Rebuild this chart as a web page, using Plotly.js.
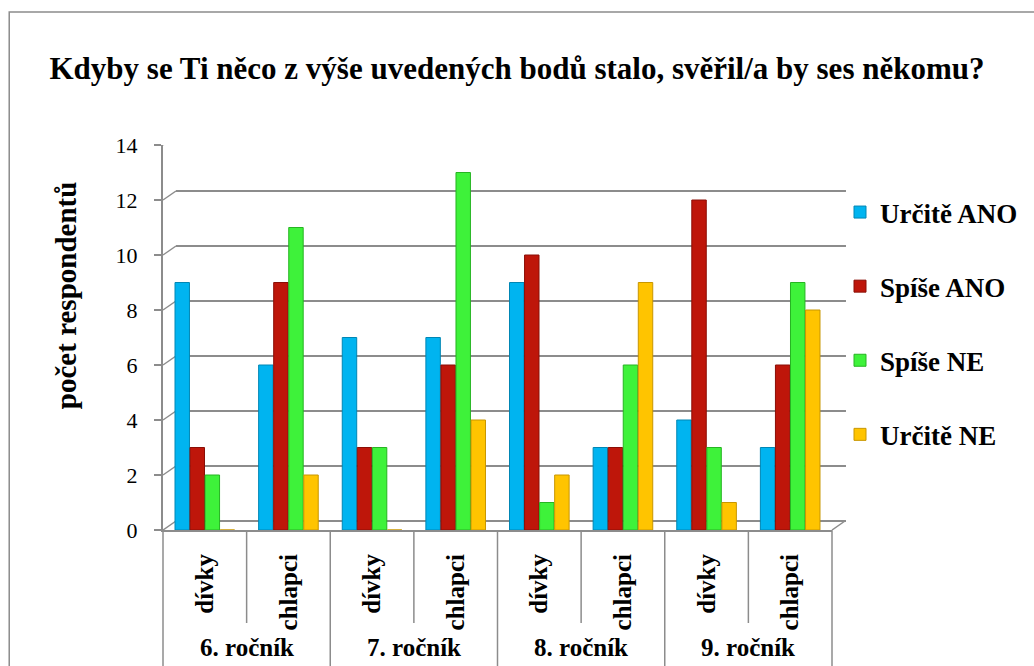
<!DOCTYPE html>
<html>
<head>
<meta charset="utf-8">
<script src="https://cdn.plot.ly/plotly-3.0.1.min.js"></script>
<style>html,body{margin:0;padding:0;background:#fff;}#chart{width:1034px;height:666px;}</style>
</head>
<body>
<div id="chart"></div>
<script>
// ---- data ----
const grades = ['6. ročník', '7. ročník', '8. ročník', '9. ročník'];
const genders = ['dívky', 'chlapci'];
const seriesNames = ['Určitě ANO', 'Spíše ANO', 'Spíše NE', 'Určitě NE'];
const urciteAno = [9, 6, 7, 7, 9, 3, 4, 3];
const spiseAno  = [3, 9, 3, 6, 10, 3, 12, 6];
const spiseNe   = [2, 11, 3, 13, 1, 6, 3, 9];
const urciteNe  = [0, 2, 0, 4, 2, 9, 1, 8];
const titleText = 'Kdyby se Ti něco z výše uvedených bodů stalo, svěřil/a by ses někomu?';
const yTitleText = 'počet respondentů';

// ---- styling ----
const colors = ['#00B4F0', '#BE160A', '#3EF23A', '#FFC400'];
const edges  = ['#0086B4', '#8A0E06', '#26B422', '#C89600'];
const serif = '"Liberation Serif", "Times New Roman", serif';
const grid = '#8c8c8c';
const Y_MAX = 14, Y_STEP = 2;

const keys = [], innerLabels = [];
grades.forEach(g => genders.forEach(s => { keys.push(g + '|' + s); innerLabels.push(s); }));

const allVals = [urciteAno, spiseAno, spiseNe, urciteNe];
const traces = allVals.map((v, i) => ({
  type: 'bar',
  name: seriesNames[i],
  legendgroup: 'g' + i,
  x: keys,
  y: v,
  marker: {color: colors[i], line: {color: edges[i], width: 1}},
  hoverinfo: 'y+name'
}));

// pixel -> paper helpers (plot area 163..833 x, 145..530 y)
const L = 163, R = 833, T = 145, B = 530;
const px = X => (X - L) / (R - L);
const py = Y => (B - Y) / (B - T);
const DX = 13, DY = 9; // 3D depth offset of back wall

const shapes = [
  {type: 'rect', xref: 'paper', yref: 'paper', x0: px(9), x1: px(1040), y0: py(700), y1: py(12),
   line: {color: '#8c8c8c', width: 1.5}, fillcolor: 'rgba(0,0,0,0)', layer: 'below'}
];
// back-wall gridlines with side-wall connectors
for (let v = 0; v <= Y_MAX; v += Y_STEP) {
  shapes.push({type: 'line', xref: 'paper', yref: 'y', ysizemode: 'pixel', yanchor: v,
    x0: px(L + DX), x1: px(847), y0: DY, y1: DY, line: {color: grid, width: 2}, layer: 'below'});
  shapes.push({type: 'line', xref: 'paper', yref: 'y', ysizemode: 'pixel', yanchor: v,
    x0: 0, x1: px(L + DX), y0: 0, y1: DY, line: {color: grid, width: 1.5}, layer: 'below'});
}
// floor right edge
shapes.push({type: 'line', xref: 'paper', yref: 'y', ysizemode: 'pixel', yanchor: 0,
  x0: 1, x1: px(R + DX), y0: 0, y1: DY, line: {color: grid, width: 1.5}});
// category table dividers
const nCat = keys.length;
for (let i = 0; i <= nCat; i++) {
  const isGroup = i % genders.length === 0;
  shapes.push({type: 'line', xref: 'paper', yref: 'paper', x0: i / nCat, x1: i / nCat,
    y0: 0, y1: isGroup ? py(700) : py(623), line: {color: grid, width: 1.5}});
}

const annotations = [{text: '<b>' + yTitleText + '</b>', xref: 'paper', yref: 'paper',
  x: px(66), y: py(296), xanchor: 'center', yanchor: 'middle', textangle: -90, showarrow: false,
  font: {family: serif, size: 29, color: '#000'}}];
grades.forEach((g, i) => annotations.push({
  text: '<b>' + g + '</b>', xref: 'paper', yref: 'paper',
  x: (i + 0.5) / grades.length, y: py(647), xanchor: 'center', yanchor: 'middle', showarrow: false,
  font: {family: serif, size: 25, color: '#000'}
}));

const layout = {
  width: 1034, height: 666,
  margin: {l: L, r: 1034 - R, t: T, b: 666 - B},
  paper_bgcolor: '#fff', plot_bgcolor: 'rgba(0,0,0,0)',
  font: {family: serif, color: '#000'},
  title: {text: '<b>' + titleText + '</b>', xref: 'container', x: 0.5, xanchor: 'center',
          yref: 'container', y: 1 - 68 / 666, yanchor: 'middle',
          font: {family: serif, size: 31, color: '#000'}},
  barmode: 'group', bargap: 0.28, bargroupgap: 0.04,
  xaxis: {type: 'category', tickmode: 'array', tickvals: keys, ticktext: innerLabels.map(s => '<b>' + s + '</b>'),
          tickangle: -90, showline: true, linecolor: grid, linewidth: 2, ticks: '', ticklabelstandoff: 12,
          tickfont: {family: serif, size: 25, color: '#000'}, fixedrange: true},
  yaxis: {range: [0, Y_MAX], dtick: Y_STEP, showline: true, linecolor: grid, linewidth: 2,
          ticks: 'outside', ticklen: 7, tickcolor: grid, tickwidth: 2, ticklabelstandoff: 12,
          showgrid: false, zeroline: false,
          tickfont: {family: serif, size: 22, color: '#000'}, fixedrange: true},
  legend: {x: px(840), xanchor: 'left', y: py(188), yanchor: 'top', tracegroupgap: 36,
           font: {family: serif, size: 27, color: '#000', weight: 'bold'}, bgcolor: 'rgba(0,0,0,0)'},
  annotations: annotations,
  shapes: shapes,
  showlegend: true
};

Plotly.newPlot('chart', traces, layout, {displayModeBar: false, staticPlot: true});
</script>
</body>
</html>
